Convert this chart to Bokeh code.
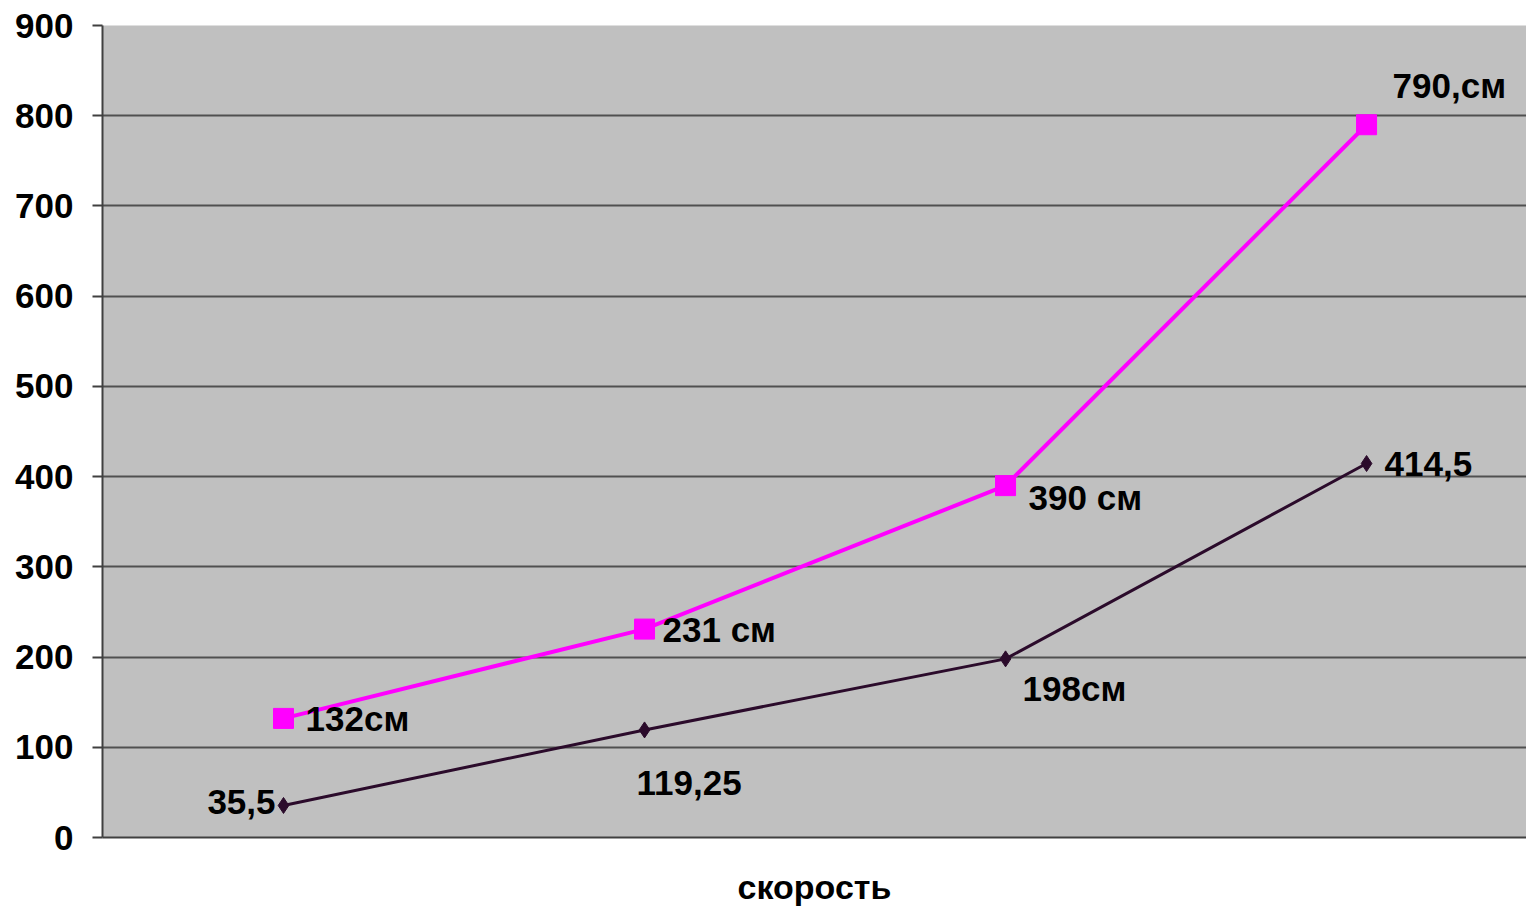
from bokeh.plotting import figure
from bokeh.models import Range1d, FixedTicker, ColumnDataSource
from bokeh.core.properties import value
from bokeh.embed import file_html
from bokeh.resources import INLINE

# data
positions = [1, 2, 3, 4]
upper_values = [132, 231, 390, 790]
upper_labels = ["132см", "231 см", "390 см", "790,см"]
lower_values = [35.5, 119.25, 198, 414.5]
lower_labels = ["35,5", "119,25", "198см", "414,5"]
y_ticks = [0, 100, 200, 300, 400, 500, 600, 700, 800, 900]
x_title = "скорость"

FONT = "Liberation Sans"

p = figure(width=1526, height=910, output_backend="svg", toolbar_location=None,
           x_range=Range1d(0.4986, 4.443), y_range=Range1d(0, 900),
           min_border_left=102, min_border_top=25, min_border_bottom=73,
           min_border_right=0)
p.background_fill_color = "#C0C0C0"
p.border_fill_color = "white"
p.outline_line_color = None

p.xgrid.grid_line_color = None
p.ygrid.grid_line_color = "#505050"
p.ygrid.grid_line_width = 2
p.ygrid.ticker = FixedTicker(ticks=y_ticks)

p.yaxis.ticker = FixedTicker(ticks=y_ticks)
p.yaxis.major_label_text_font = FONT
p.yaxis.major_label_text_font_style = "bold"
p.yaxis.major_label_text_font_size = "35px"
p.yaxis.major_label_text_color = "black"
p.yaxis.major_tick_out = 10
p.yaxis.major_tick_in = 0
p.yaxis.minor_tick_line_color = None
p.yaxis.major_tick_line_color = "#404040"
p.yaxis.major_tick_line_width = 2
p.yaxis.axis_line_color = "#404040"
p.yaxis.axis_line_width = 2
p.yaxis.major_label_standoff = 19

p.xaxis.ticker = FixedTicker(ticks=[])
p.xaxis.axis_line_color = "#404040"
p.xaxis.axis_line_width = 2
p.xaxis.major_tick_line_color = None
p.xaxis.minor_tick_line_color = None
p.xaxis.major_label_text_font_size = "0px"
p.xaxis.axis_label = x_title
p.xaxis.axis_label_text_font = FONT
p.xaxis.axis_label_text_font_style = "bold"
p.xaxis.axis_label_text_font_size = "34px"
p.xaxis.axis_label_text_color = "black"
p.xaxis.axis_label_standoff = 30

# series
p.line(positions, upper_values, line_color="#FF00FF", line_width=4)
p.scatter(positions, upper_values, marker="square", size=20,
          fill_color="#FF00FF", line_color="#FF00FF")
p.line(positions, lower_values, line_color="#2b0b2b", line_width=3)
p.scatter(positions, lower_values, marker="diamond", size=16,
          fill_color="#2b0b2b", line_color="#2b0b2b")

up_src = ColumnDataSource(dict(x=positions, y=upper_values, t=upper_labels,
                               xo=[22, 18, 23, 26], yo=[0, 0, 12, -39]))
lo_src = ColumnDataSource(dict(x=positions, y=lower_values, t=lower_labels,
                               xo=[-8, -8, 17, 18], yo=[-3, 53, 30, 0],
                               al=["right", "left", "left", "left"]))
p.text(x="x", y="y", text="t", source=up_src, x_offset="xo", y_offset="yo",
       text_font=value(FONT), text_font_style="bold", text_font_size="35px",
       text_color="black", text_baseline="middle", text_align="left")
p.text(x="x", y="y", text="t", source=lo_src, x_offset="xo", y_offset="yo",
       text_font=value(FONT), text_font_style="bold", text_font_size="35px",
       text_color="black", text_baseline="middle", text_align="al")

open("out.html", "w").write(file_html(p, INLINE))
